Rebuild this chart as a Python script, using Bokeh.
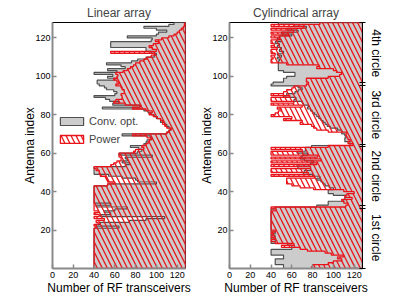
from bokeh.plotting import figure
from bokeh.models import FixedTicker, LinearAxis, Legend, LegendItem, Range1d
from bokeh.layouts import row
from bokeh.embed import file_html
from bokeh.resources import INLINE

FONT = "Liberation Sans"
N_ANT = 128
antenna = list(range(1, N_ANT + 1))
x_ticks = [0, 20, 40, 60, 80, 100, 120]
y_ticks = [20, 40, 60, 80, 100, 120]

# Left edge (number of RF transceivers at which antenna k becomes active), k = 1..128
linear_conv = [
    40, 40, 40, 40, 40, 40, 40, 40, 40, 40, 40, 40, 40, 40, 40, 40,
    40, 40, 40, 40, 40, 64, 42, 46, 74, 90, 108, 46, 56, 50, 60, 72,
    42, 56, 40, 40, 40, 40, 40, 40, 40, 40, 40, 53, 100, 82, 80, 67,
    54, 40, 40, 40, 40, 70, 74, 67, 72, 70, 96, 64, 82, 86, 83, 75,
    88, 90, 91, 96, 94, 67, 110, 112, 114, 112, 110, 108, 104, 104, 100, 98,
    95, 92, 88, 48, 84, 58, 64, 55, 51, 40, 60, 62, 59, 52, 50, 45,
    43, 43, 60, 53, 58, 40, 62, 53, 70, 66, 52, 76, 82, 90, 98, 100,
    95, 90, 90, 56, 56, 56, 95, 96, 72, 100, 102, 110, 100, 88, 112, 117,
]
linear_power = [
    40, 40, 40, 40, 40, 40, 40, 40, 40, 40, 40, 40, 40, 40, 40, 40,
    40, 40, 40, 40, 40, 42, 40, 44, 42, 50, 40, 45, 40, 44, 40, 40,
    40, 40, 40, 40, 40, 40, 40, 40, 40, 40, 40, 53, 60, 53, 52, 51,
    46, 45, 45, 42, 40, 56, 59, 62, 66, 66, 64, 64, 78, 80, 88, 86,
    90, 92, 93, 95, 91, 77, 110, 112, 114, 110, 108, 106, 106, 104, 101, 97,
    93, 96, 90, 77, 85, 70, 59, 61, 67, 67, 66, 69, 69, 67, 66, 61,
    64, 62, 59, 62, 63, 61, 68, 72, 75, 78, 80, 84, 88, 91, 95, 98,
    56, 100, 96, 93, 97, 102, 99, 105, 112, 117, 120, 122, 124, 126, 127, 127,
]
cyl_conv = [
    52, 52, 44, 44, 44, 52, 52, 40, 40, 40, 60, 60, 56, 40, 44, 40,
    44, 40, 44, 40, 40, 40, 40, 40, 40, 40, 40, 40, 40, 40, 40, 44,
    84, 95, 95, 110, 111, 112, 100, 95, 95, 100, 96, 92, 90, 88, 84, 87,
    80, 71, 72, 78, 66, 65, 78, 81, 72, 68, 70, 75, 65, 73, 73, 79,
    116, 116, 111, 111, 112, 111, 108, 108, 104, 97, 94, 92, 90, 88, 86, 84,
    82, 80, 78, 75, 76, 71, 70, 62, 64, 52, 55, 63, 66, 70, 66, 40,
    42, 52, 52, 55, 63, 63, 52, 47, 47, 47, 47, 47, 48, 46, 50, 46,
    52, 48, 50, 46, 48, 44, 50, 46, 48, 60, 50, 66, 56, 74, 62, 47,
]
cyl_power = [
    79, 80, 95, 100, 108, 104, 110, 98, 92, 75, 68, 50, 62, 44, 40, 43,
    40, 42, 40, 44, 40, 40, 40, 40, 40, 40, 40, 40, 40, 40, 45, 40,
    112, 114, 110, 108, 118, 111, 113, 120, 110, 81, 68, 60, 55, 55, 55, 82,
    40, 76, 40, 40, 78, 40, 84, 40, 88, 40, 85, 40, 40, 70, 40, 95,
    119, 114, 116, 114, 113, 112, 113, 95, 84, 81, 79, 68, 70, 52, 60, 40,
    44, 47, 50, 46, 70, 40, 62, 40, 40, 58, 40, 52, 55, 60, 62, 74,
    76, 74, 74, 95, 106, 108, 103, 100, 84, 86, 55, 40, 40, 42, 40, 44,
    40, 40, 46, 40, 43, 40, 40, 48, 40, 57, 40, 62, 40, 71, 40, 87,
]

circle_edges = [0, 32, 64, 96, 128]
circle_labels = ["1st circle", "2nd circle", "3rd circle", "4th circle"]

X_MAX = 128
GRAY_FILL = "#cccccc"
GRAY_LINE = "#505050"
RED = "#e8141a"
AXIS_GRAY = "#8a8a8a"


def step_polygon(left_edges):
    xs, ys = [X_MAX], [0]
    for k, v in zip(antenna, left_edges):
        xs += [v, v]
        ys += [k - 1, k]
    xs.append(X_MAX)
    ys.append(N_ANT)
    return xs, ys


def make_fig(title, conv, power, border_left, border_right, with_legend=False):
    p = figure(frame_width=133, frame_height=246,
               x_range=Range1d(0, X_MAX), y_range=Range1d(0, N_ANT),
               output_backend="svg", toolbar_location=None,
               min_border_left=border_left, min_border_right=border_right,
               min_border_top=22, min_border_bottom=0,
               background_fill_color="white", border_fill_color="white")
    p.title.text = title
    p.title.align = "center"
    p.title.text_font = FONT
    p.title.text_font_size = "12px"
    p.title.text_font_style = "normal"
    p.title.standoff = 6
    p.xgrid.visible = False
    p.ygrid.visible = False
    p.outline_line_color = "black"
    p.outline_line_width = 1

    gx, gy = step_polygon(conv)
    r1 = p.patch(gx, gy, fill_color=GRAY_FILL, line_color=GRAY_LINE, line_width=1.2)
    rx, ry = step_polygon(power)
    r2 = p.patch(rx, ry, fill_alpha=0, line_color=RED, line_width=1.3,
                 hatch_pattern="\\", hatch_color=RED, hatch_scale=10, hatch_weight=1.3)

    p.xaxis.ticker = FixedTicker(ticks=x_ticks)
    p.yaxis.ticker = FixedTicker(ticks=y_ticks)
    p.xaxis.axis_label = "Number of RF transceivers"
    p.yaxis.axis_label = "Antenna index"
    for ax in (p.xaxis[0], p.yaxis[0]):
        ax.axis_line_color = AXIS_GRAY
        ax.axis_line_width = 2
        ax.major_tick_line_color = AXIS_GRAY
        ax.major_tick_line_width = 1.5
        ax.major_tick_in = 4
        ax.major_tick_out = 0
        ax.minor_tick_line_color = None
        ax.major_label_text_font = FONT
        ax.major_label_text_font_size = "9px"
        ax.major_label_text_color = "black"
        ax.axis_label_text_font = FONT
        ax.axis_label_text_font_size = "12px"
        ax.axis_label_text_font_style = "normal"
        ax.axis_label_text_color = "black"
    p.xaxis.major_label_standoff = 3
    p.xaxis.axis_label_standoff = 0
    p.yaxis.major_label_standoff = 2
    p.yaxis.axis_label_standoff = -5

    if with_legend:
        legend = Legend(items=[LegendItem(label="Conv. opt.", renderers=[r1]),
                               LegendItem(label="Power", renderers=[r2])],
                        location=(5, 123), glyph_width=29, glyph_height=10,
                        label_standoff=3, spacing=6, padding=0, margin=0,
                        border_line_color=None, background_fill_alpha=0,
                        label_text_font=FONT, label_text_font_size="11px")
        p.add_layout(legend)
    return p


p1 = make_fig("Linear array", linear_conv, linear_power, 52, 8, with_legend=True)
p2 = make_fig("Cylindrical array", cyl_conv, cyl_power, 36, 0)

# bracket marking the four circles of the cylindrical array
spacer = LinearAxis(ticker=FixedTicker(ticks=[]), axis_line_color=None,
                    major_tick_in=0, major_tick_out=9, major_label_standoff=0,
                    major_label_text_font_size="0px", minor_tick_line_color=None)
p2.add_layout(spacer, "right")

mids = [(a + b) / 2 for a, b in zip(circle_edges[:-1], circle_edges[1:])]
bracket_ticks = []
for e in circle_edges:
    if e in (circle_edges[0], circle_edges[-1]):
        bracket_ticks.append(e)
    else:
        bracket_ticks += [e - 0.7, e + 0.7]
bracket = LinearAxis(ticker=FixedTicker(ticks=mids, minor_ticks=bracket_ticks),
                     bounds=(circle_edges[0], circle_edges[-1]),
                     axis_line_color="black", axis_line_width=1,
                     major_tick_in=0, major_tick_out=0,
                     minor_tick_in=3, minor_tick_out=3,
                     minor_tick_line_color="black", minor_tick_line_width=1,
                     major_label_overrides={m: lab for m, lab in zip(mids, circle_labels)},
                     major_label_orientation="vertical",
                     major_label_text_font=FONT, major_label_text_font_size="12px",
                     major_label_text_color="black", major_label_standoff=3)
p2.add_layout(bracket, "right")

layout = row(p1, p2)
open("out.html", "w").write(file_html(layout, INLINE))
